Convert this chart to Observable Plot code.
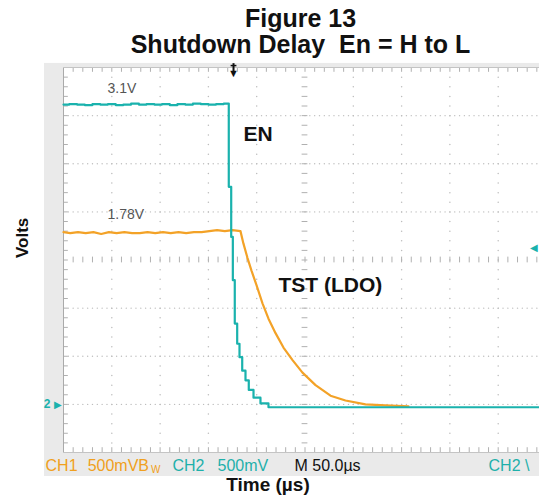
<!DOCTYPE html>
<html><head><meta charset="utf-8">
<script src="https://cdn.jsdelivr.net/npm/d3@7"></script>
<script src="https://cdn.jsdelivr.net/npm/@observablehq/plot@0.6"></script>
<style>
body{margin:0;background:#fff;font-family:"Liberation Sans",Arial,sans-serif;}
#title{box-sizing:border-box;width:539px;height:62px;padding:5px 0 0 62px;text-align:center;font-weight:bold;font-size:25px;line-height:26px;color:#111;}
#xlabel{box-sizing:border-box;width:539px;height:22px;text-align:center;font-weight:bold;font-size:19px;line-height:22px;padding-right:3px;margin-top:-2px;color:#111;}
svg{display:block}
</style></head><body>
<div id="title">Figure 13<br>Shutdown Delay&nbsp; En = H to L</div>
<div id="chart"></div>
<div id="xlabel">Time (µs)</div>
<script>
// ---- data (time in µs, 50 µs/div; volts, 500 mV/div) ----
const enTime  = [0,6,14,22,30,38,46,54,62,70,78,86,94,102,110,118,126,134,142,150,158,166,
                 171.1,173.6,175.3,177.3,179.8,182.2,185.0,188.4,191.8,196.7,203.9,212.2,500];
const enVolts = [3.115,3.12,3.115,3.11,3.12,3.115,3.12,3.11,3.115,3.125,3.115,3.12,3.115,3.12,3.11,3.12,3.115,3.125,3.12,3.115,3.12,3.125,
                 2.26,1.74,1.29,0.84,0.63,0.49,0.35,0.25,0.15,0.07,0.01,-0.03,-0.03];

const tstTime  = [0,7,15,23,31,39,47,55,63,71,79,87,95,103,111,119,127,135,143,151,159,167,175,
                  183.2,186.3,190.5,194.6,199.8,206.0,212.2,219.5,227.7,237.1,247.4,260.9,276.4,291.9,312.6,333.3,357.1];
const tstVolts = [1.79,1.78,1.79,1.78,1.79,1.77,1.79,1.78,1.79,1.78,1.78,1.79,1.78,1.79,1.78,1.79,1.78,1.79,1.79,1.80,1.81,1.80,1.81,
                  1.80,1.67,1.52,1.39,1.24,1.05,0.89,0.74,0.59,0.46,0.33,0.20,0.09,0.04,0.00,-0.01,-0.02];

const levelLabels = ["3.1V", "1.78V"];
const levelLabelT = [45.5, 45.5];
const levelLabelV = [3.24, 1.93];
const traceNames = ["EN", "TST (LDO)"];
const traceNameT = [186.3, 222.6];
const traceNameV = [2.74, 1.17];
const statusText = ["CH1", "500mVB", "CH2", "500mV", "M 50.0\u00b5s", "CH2 \\"];
const statusT    = [-18.6, 25.0, 112.8, 159.4, 239.1, 440.0];
const statusColor= ["#f0a020","#f0a020","#1fb0aa","#1fb0aa","#111","#1fb0aa"];
const triggerT = 176.0;
const triggerLevelV = 1.63;

const CYAN = "#1ab2ad", ORANGE = "#f3a227";

// ---- scope graticule positions ----
const divT = d3.range(0, 501, 50);
const divV = d3.range(-0.5, 3.51, 0.5);
const subT = d3.range(10, 500, 10);
const fineT = d3.range(5, 500, 5);
const subV = d3.range(-0.4, 3.45, 0.1).map(v => Math.round(v * 10) / 10);
const colDots = d3.cross(divT.filter(t => t > 0 && t < 500 && t !== 250), subV).map(([t, v]) => ({t, v}));
const rowDots = d3.cross(fineT, divV.filter(v => v > -0.5 && v < 3.5 && v !== 1.5)).map(([t, v]) => ({t, v}));

const en  = enTime.map((t, i) => ({t, v: enVolts[i]}));
const tst = tstTime.map((t, i) => ({t, v: tstVolts[i]}));
const lvl = levelLabels.map((s, i) => ({s, t: levelLabelT[i], v: levelLabelV[i]}));
const names = traceNames.map((s, i) => ({s, t: traceNameT[i], v: traceNameV[i]}));
const status = statusText.map((s, i) => ({s, t: statusT[i], c: statusColor[i]}));

const GRID = "#bdbdbd";
const chart = Plot.plot({
  width: 539, height: 414,
  marginLeft: 63, marginRight: 0, marginTop: 5, marginBottom: 24,
  x: {domain: [0, 500], range: [63, 546], axis: null},
  y: {domain: [-0.5, 3.5], axis: null},
  style: {background: "transparent", fontFamily: "Liberation Sans, Arial, sans-serif"},
  marks: [
    // scope bezel + screen
    Plot.rect([{a: -19.7, b: 520, c: -0.75, d: 3.542}], {x1: "a", x2: "b", y1: "c", y2: "d", fill: "#eaeaea"}),
    Plot.rect([{a: 0, b: 500, c: -0.5, d: 3.5}], {x1: "a", x2: "b", y1: "c", y2: "d", fill: "#fff"}),
    // graticule
    Plot.dot(colDots, {x: "t", y: "v", r: 0.75, fill: GRID, stroke: null}),
    Plot.dot(rowDots, {x: "t", y: "v", r: 0.7, fill: GRID, stroke: null}),
    Plot.ruleY(subV, {y: d => d, x1: 247, x2: 253, stroke: "#b0b0b0", strokeWidth: 1}),
    Plot.ruleX(subT, {x: d => d, y1: 1.47, y2: 1.53, stroke: "#b0b0b0", strokeWidth: 1}),
    Plot.ruleX(subT, {x: d => d, y1: 3.5, y2: 3.45, stroke: "#b0b0b0", strokeWidth: 1}),
    Plot.ruleX(subT, {x: d => d, y1: -0.5, y2: -0.45, stroke: "#b0b0b0", strokeWidth: 1}),
    Plot.ruleY(subV, {y: d => d, x1: 0, x2: 5, stroke: "#b0b0b0", strokeWidth: 1}),
    Plot.ruleX([0], {y1: -0.5, y2: 3.5, stroke: "#aaa"}),
    Plot.ruleY([-0.5, 3.5], {x1: 0, x2: 500, stroke: "#c4c4c4"}),
    // traces
    Plot.line(tst, {x: "t", y: "v", stroke: ORANGE, strokeWidth: 2.2}),
    Plot.line(en, {x: "t", y: "v", stroke: CYAN, strokeWidth: 2.2, curve: "step-after"}),
    // markers
    Plot.link([{t: triggerT}], {x1: "t", x2: "t", y1: () => 3.545, y2: () => 3.46, stroke: "#111", strokeWidth: 2}),
    Plot.link([{t: triggerT}], {x1: d => d.t - 3, x2: d => d.t + 3, y1: () => 3.52, y2: () => 3.52, stroke: "#111", strokeWidth: 1.5}),
    Plot.text([{t: triggerT}], {x: "t", y: () => 3.48, text: () => "\u25BC", fontSize: 11, fill: "#111", lineAnchor: "top"}),
    Plot.text([{t: -17.0}], {x: "t", y: () => 0, text: () => "2", fontSize: 12, fontWeight: "bold", fill: CYAN}),
    Plot.text([{t: -6}], {x: "t", y: () => 0, text: () => "\u25B6", fontSize: 10, fill: CYAN}),
    Plot.text([{t: 491.7}], {x: "t", y: () => triggerLevelV, text: () => "\u25C0", fontSize: 10, fill: CYAN, textAnchor: "end"}),
    // labels
    Plot.text(lvl, {x: "t", y: "v", text: "s", fontSize: 14, fill: "#555", textAnchor: "start", lineAnchor: "bottom"}),
    Plot.text(names, {x: "t", y: "v", text: "s", fontSize: 21, fontWeight: "bold", fill: "#111", textAnchor: "start", lineAnchor: "bottom"}),
    Plot.text(status, {x: "t", y: () => -0.697, text: "s", fill: "c", fontSize: 16, textAnchor: "start", lineAnchor: "bottom"}),
    Plot.text([{t: 90.6}], {x: "t", y: () => -0.715, text: () => "W", fill: "#f0a020", fontSize: 10, textAnchor: "start", lineAnchor: "bottom"}),
    Plot.text([{t: -42.4}], {x: "t", y: () => 1.73, text: () => "Volts", rotate: -90, fontSize: 17, fontWeight: "bold", fill: "#111"})
  ]
});
document.getElementById("chart").append(chart);
</script></body></html>
